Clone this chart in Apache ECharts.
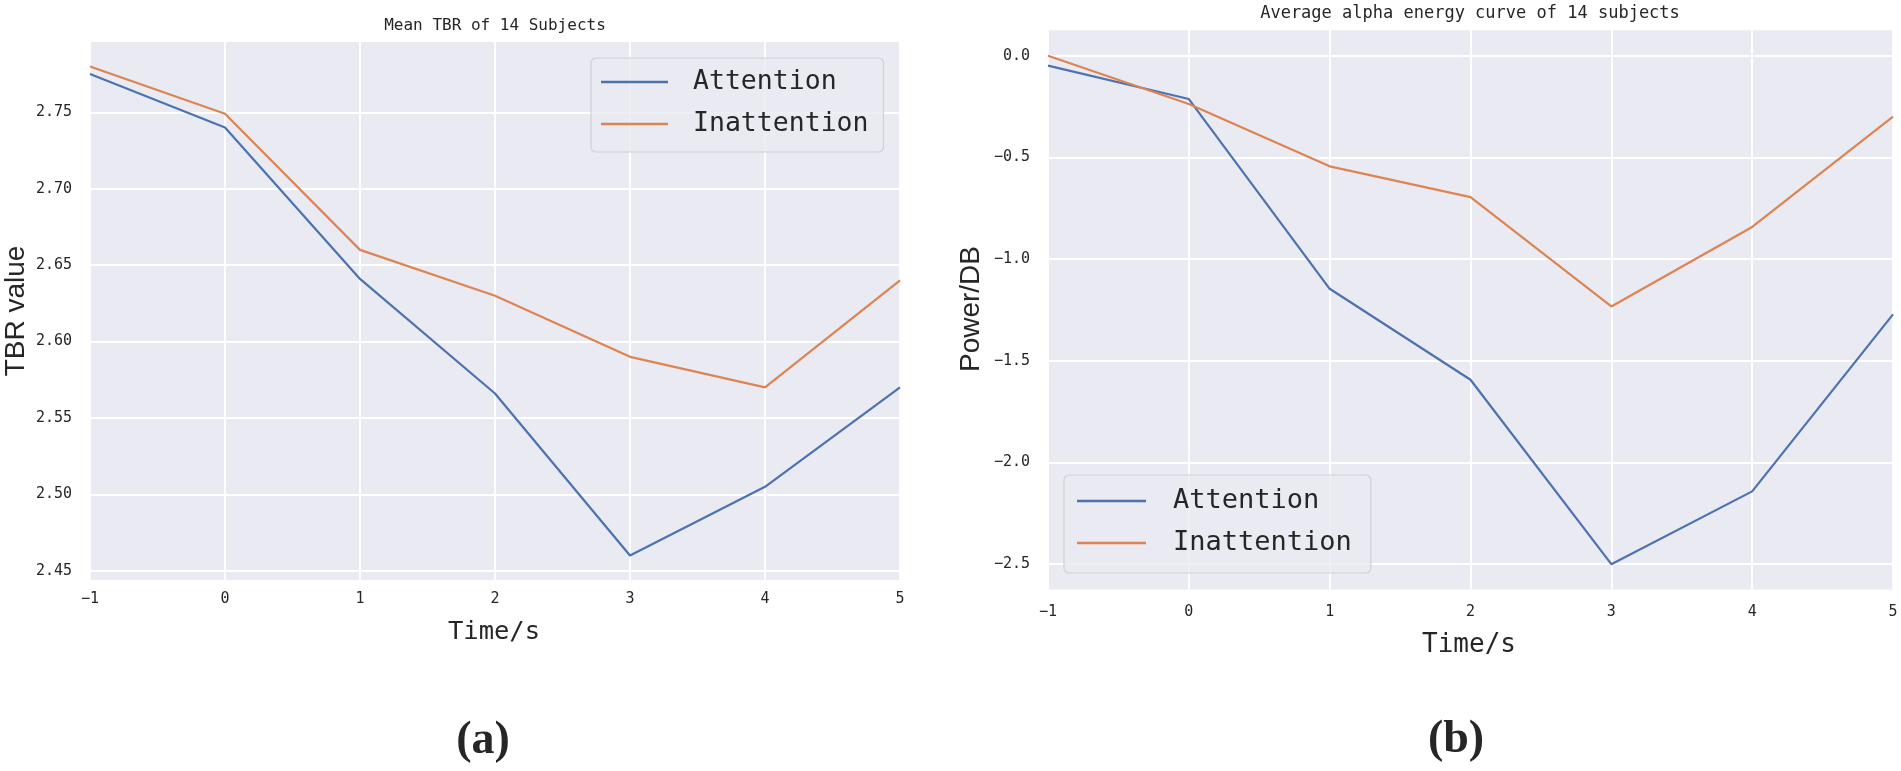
<!DOCTYPE html>
<html>
<head>
<meta charset="utf-8">
<script src="https://cdn.jsdelivr.net/npm/echarts@6/dist/echarts.min.js"></script>
<style>
html,body{margin:0;padding:0;background:#fff;}
#chart{width:1901px;height:771px;}
</style>
</head>
<body>
<div id="chart"></div>
<script>
// ---- data ----
const times = [-1, 0, 1, 2, 3, 4, 5];
const tbrAttention   = [2.775, 2.740, 2.641, 2.566, 2.460, 2.505, 2.570];
const tbrInattention = [2.780, 2.749, 2.660, 2.630, 2.590, 2.570, 2.640];
const alphaAttention   = [-0.049, -0.213, -1.146, -1.593, -2.500, -2.142, -1.272];
const alphaInattention = [0.000, -0.237, -0.544, -0.695, -1.233, -0.842, -0.300];
const tbrTicks = [2.45, 2.50, 2.55, 2.60, 2.65, 2.70, 2.75];
const alphaTicks = [-2.5, -2.0, -1.5, -1.0, -0.5, 0.0];
const xTicks = [-1, 0, 1, 2, 3, 4, 5];

const BLUE = '#4c72b0', ORANGE = '#dd8452', BG = '#eaeaf2', TXT = '#262626';
const MONO = '"DejaVu Sans Mono", "Liberation Mono", monospace';
const SANS = '"Liberation Sans", Arial, sans-serif';
const SERIF = '"Liberation Serif", "Times New Roman", serif';

const pairs = (xs, ys) => xs.map((x, i) => [x, ys[i]]);
const minus = s => s.replace('-', '\u2212');

const chart = echarts.init(document.getElementById('chart'), null, {renderer: 'canvas'});

function xAxisCfg(gridIndex, margin) {
  return {
    type: 'value', gridIndex, min: -1, max: 5, interval: 1,
    axisLine: {show: false}, axisTick: {show: false},
    splitLine: {show: true, lineStyle: {color: '#ffffff', width: 1.8}},
    axisLabel: {margin, fontFamily: MONO, fontSize: 15, color: TXT,
      formatter: v => minus(String(v))}
  };
}
function yAxisCfg(gridIndex, min, max, ticks, digits) {
  return {
    type: 'value', gridIndex, min, max,
    axisLine: {show: false},
    axisTick: {show: false, customValues: ticks},
    splitLine: {show: true, lineStyle: {color: '#ffffff', width: 1.8}},
    axisLabel: {margin: 18, fontFamily: MONO, fontSize: 15, color: TXT,
      customValues: ticks,
      formatter: v => minus(Number(v).toFixed(digits))}
  };
}
function legendCfg(left, top, fontSize, itemWidth, textPadLeft, padding) {
  return {
    data: ['Attention', 'Inattention'], orient: 'vertical',
    left, top, icon: 'rect', itemWidth, itemHeight: 2.5, itemGap: 12,
    padding, backgroundColor: 'rgba(234,234,242,0.8)',
    borderColor: '#d0d0d8', borderWidth: 1.2, borderRadius: 5,
    selectedMode: false,
    textStyle: {fontFamily: MONO, fontSize, color: TXT, lineHeight: 30,
      padding: [0, 0, 0, textPadLeft]}
  };
}
function lineSeries(name, data, color, xi, yi) {
  return {
    type: 'line', name, data, xAxisIndex: xi, yAxisIndex: yi,
    symbol: 'none', color, lineStyle: {color, width: 2.2}, animation: false
  };
}
function txt(text, x, y, font, rotation) {
  return {
    type: 'text', x, y, rotation: rotation || 0, silent: true,
    style: {text, x: 0, y: 0, font, fill: TXT, align: 'center', verticalAlign: 'middle',
      textAlign: 'center', textVerticalAlign: 'middle'}
  };
}

const option = {
  backgroundColor: '#ffffff',
  animation: false,
  grid: [
    {left: 90, top: 42, width: 810, height: 538, show: true, backgroundColor: BG, borderWidth: 0},
    {left: 1048, top: 30.3, width: 845, height: 559.3, show: true, backgroundColor: BG, borderWidth: 0}
  ],
  xAxis: [xAxisCfg(0, 12), xAxisCfg(1, 15)],
  yAxis: [
    yAxisCfg(0, 2.444, 2.796, tbrTicks, 2),
    yAxisCfg(1, -2.625, 0.125, alphaTicks, 1)
  ],
  legend: [
    legendCfg(591, 58, 26.5, 67, 20, [9, 15, 13, 10]),
    legendCfg(1064, 475, 27, 69, 22, [11, 19, 15, 13])
  ],
  series: [
    lineSeries('Attention', pairs(times, tbrAttention), BLUE, 0, 0),
    lineSeries('Inattention', pairs(times, tbrInattention), ORANGE, 0, 0),
    lineSeries('Attention', pairs(times, alphaAttention), BLUE, 1, 1),
    lineSeries('Inattention', pairs(times, alphaInattention), ORANGE, 1, 1)
  ],
  graphic: [
    txt('Mean TBR of 14 Subjects', 495, 26, '16px ' + MONO),
    txt('Average alpha energy curve of 14 subjects', 1470, 14, '17px ' + MONO),
    txt('TBR value', 16, 311, '28px ' + SANS, Math.PI / 2),
    txt('Power/DB', 971, 309, '28px ' + SANS, Math.PI / 2),
    txt('Time/s', 494, 632, '25.5px ' + MONO),
    txt('Time/s', 1469, 645, '26px ' + MONO),
    txt('(a)', 483, 741, 'bold 46px ' + SERIF),
    txt('(b)', 1456, 740, 'bold 46px ' + SERIF)
  ]
};
chart.setOption(option);
</script>
</body>
</html>
